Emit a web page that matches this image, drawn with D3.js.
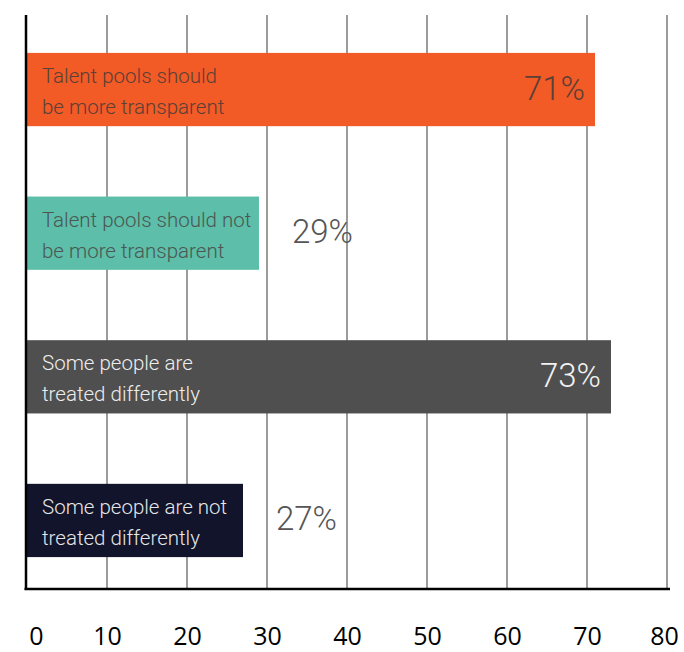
<!DOCTYPE html>
<html>
<head>
<meta charset="utf-8">
<script src="https://cdn.jsdelivr.net/npm/d3@7"></script>
<style>
  html, body { margin: 0; padding: 0; background: #fff; }
  svg { display: block; }
</style>
</head>
<body>
<svg id="chart" width="684" height="652"></svg>
<script>
// ---- data ----
const categories = [
  ["Talent pools should", "be more transparent"],
  ["Talent pools should not", "be more transparent"],
  ["Some people are", "treated differently"],
  ["Some people are not", "treated differently"]
];
const values = [71, 29, 73, 27];
const valueLabels = ["71%", "29%", "73%", "27%"];
const barColors = ["#F25A26", "#5DBEA9", "#4F4F4F", "#11142A"];
const labelColors = ["#5a4036", "#4a5752", "#EDEDED", "#E6E6E6"];
const pctColors = ["#5a4036", "#555555", "#F2F2F2", "#555555"];
const xTicks = [0, 10, 20, 30, 40, 50, 60, 70, 80];

// ---- layout ----
const svg = d3.select("#chart");
const x = d3.scaleLinear().domain([0, 80]).range([27, 667]);
const y = d3.scaleBand()
  .domain(d3.range(categories.length))
  .range([17, 593])
  .paddingInner(0.49)
  .paddingOuter(0.25);
const gridTop = 15, axisY = 589;

// gridlines
svg.append("g").selectAll("line")
  .data(xTicks.filter(d => d > 0))
  .join("line")
  .attr("x1", d => x(d)).attr("x2", d => x(d))
  .attr("y1", gridTop).attr("y2", axisY)
  .attr("stroke", "#7a7a7a").attr("stroke-width", 1.5);

// bars
const g = svg.append("g");
g.selectAll("rect")
  .data(values)
  .join("rect")
  .attr("x", x(0))
  .attr("y", (d, i) => y(i))
  .attr("width", d => x(d) - x(0))
  .attr("height", y.bandwidth())
  .attr("fill", (d, i) => barColors[i]);

// category labels inside bars
categories.forEach((lines, i) => {
  const t = svg.append("text")
    .attr("font-family", "'Helvetica Neue', Roboto, 'Liberation Sans', sans-serif")
    .attr("font-weight", 300)
    .attr("font-size", 20.5)
    .attr("fill", labelColors[i]);
  lines.forEach((ln, j) => {
    t.append("tspan")
      .attr("x", x(0) + 15)
      .attr("y", y(i) + 30 + j * 31)
      .text(ln);
  });
});

// percentage labels
svg.append("g").selectAll("text")
  .data(values)
  .join("text")
  .attr("font-family", "'Helvetica Neue', Roboto, 'Liberation Sans', sans-serif")
  .attr("font-weight", 300)
  .attr("font-size", 33)
  .attr("fill", (d, i) => pctColors[i])
  .attr("text-anchor", d => d > 50 ? "end" : "start")
  .attr("x", d => d > 50 ? x(d) - 10 : x(d) + 33)
  .attr("y", (d, i) => y(i) + y.bandwidth() / 2 + 10)
  .text((d, i) => valueLabels[i]);

// axes lines
svg.append("line")
  .attr("x1", x(0) - 1).attr("x2", x(0) - 1)
  .attr("y1", gridTop).attr("y2", axisY + 1)
  .attr("stroke", "#000").attr("stroke-width", 2.5);
svg.append("line")
  .attr("x1", x(0) - 2.5).attr("x2", x(80) + 3)
  .attr("y1", axisY).attr("y2", axisY)
  .attr("stroke", "#000").attr("stroke-width", 2.5);

// x tick labels via axis
const xAxis = d3.axisBottom(x).tickValues(xTicks).tickSize(0).tickFormat(d3.format("d"));
const ax = svg.append("g")
  .attr("transform", `translate(0, ${axisY})`)
  .call(xAxis);
ax.select(".domain").remove();
ax.selectAll("text")
  .attr("font-family", "'Open Sans', 'Noto Sans', sans-serif")
  .attr("font-size", 25)
  .attr("fill", "#000")
  .attr("dy", null)
  .attr("y", 56)
  .attr("dx", d => d === 0 ? 9 : (d === 80 ? -3 : 0));
</script>
</body>
</html>
